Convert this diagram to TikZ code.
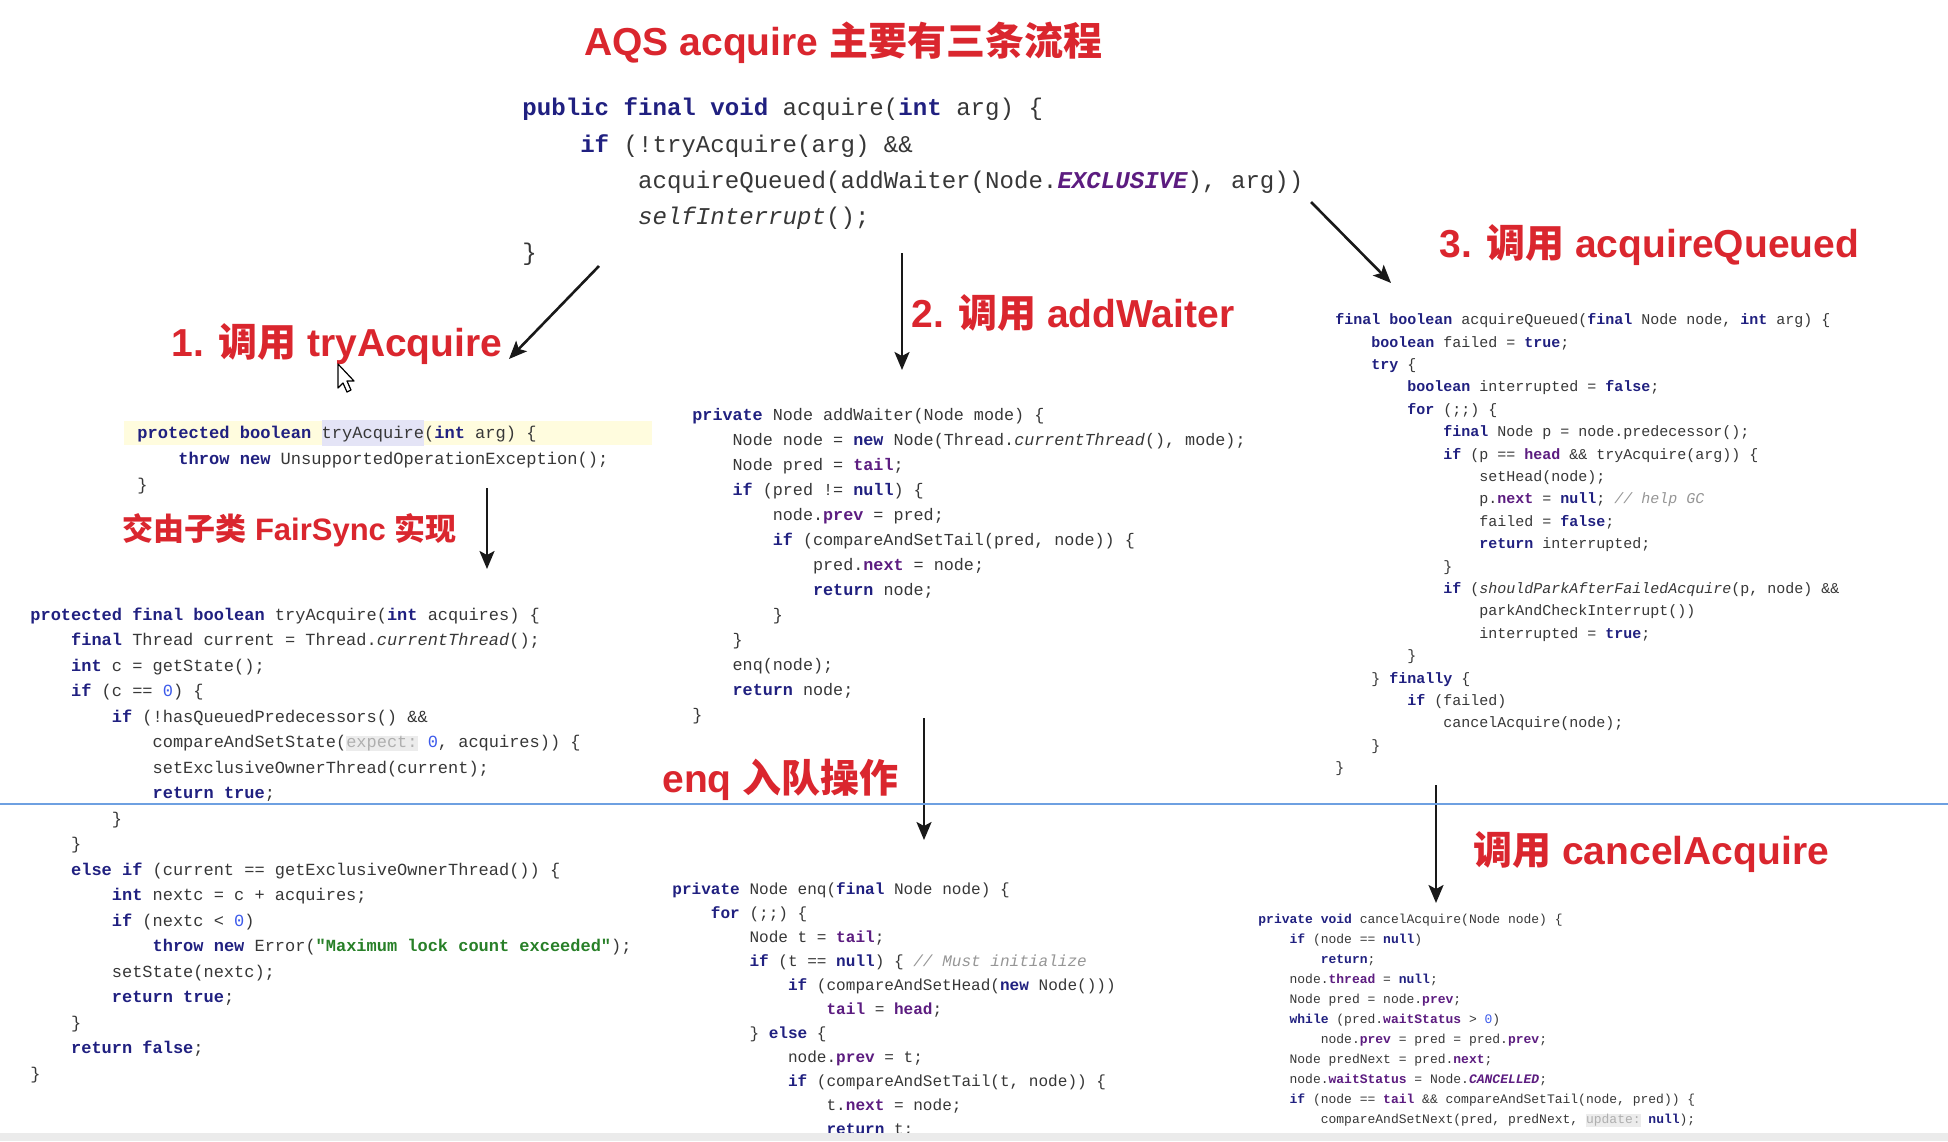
\documentclass[tikz,border=0pt]{standalone}
\usepackage{fontspec}
\setmainfont{Liberation Sans}
\setmonofont{Liberation Mono}
\newfontfamily\cjk{Noto Sans CJK SC}
\usepackage{xcolor}
\usepackage{tikz}
\usetikzlibrary{arrows.meta}

\definecolor{redtxt}{RGB}{218,38,46}
\definecolor{kwcol}{RGB}{32,32,128}
\definecolor{fldcol}{RGB}{92,28,128}
\definecolor{plaincol}{RGB}{55,55,55}
\definecolor{numcol}{RGB}{60,90,235}
\definecolor{strcol}{RGB}{40,128,40}
\definecolor{cmtcol}{RGB}{150,150,150}
\definecolor{hintbg}{RGB}{236,236,236}
\definecolor{hinttxt}{RGB}{175,175,175}
\definecolor{selcol}{RGB}{228,228,246}
\definecolor{linecol}{RGB}{255,252,222}
\definecolor{rulecol}{RGB}{110,160,225}

\newcommand{\ckw}[1]{\textcolor{kwcol}{\bfseries #1}}
\newcommand{\cfld}[1]{\textcolor{fldcol}{\bfseries #1}}
\newcommand{\cnum}[1]{\textcolor{numcol}{#1}}
\newcommand{\cstr}[1]{\textcolor{strcol}{\bfseries #1}}
\newcommand{\ccmt}[1]{\textcolor{cmtcol}{\itshape #1}}
\newcommand{\chint}[1]{{\setlength{\fboxsep}{0pt}\colorbox{hintbg}{\textcolor{hinttxt}{#1}}}}
\newcommand{\chl}[1]{{\setlength{\fboxsep}{0pt}\colorbox{selcol}{\strut #1}}}
\newcommand{\cind}[1]{\hspace*{\dimexpr\fontcharwd\font`\x*#1\relax}}

\begin{document}
\begin{tikzpicture}[
    x=0.5pt, y=-0.5pt,
    head/.style={anchor=west, inner sep=0pt, text=redtxt, font=\fontsize{19.5}{23}\selectfont\bfseries},
    code/.style={anchor=north west, inner sep=0pt, align=left, text=plaincol},
    arrow/.style={-{Stealth[length=9pt,width=7.5pt,inset=2pt]}, line width=1.3pt, draw=black!90}
]
\useasboundingbox[fill=white] (0,0) rectangle (1948,1141);

% current line highlight
\fill[linecol] (124,421) rectangle (652,445);

% Title
\node[head] (title) at (584,43) {AQS acquire {\cjk 主要有三条流程}};

% acquire()
\node[code, font=\fontsize{12.05}{18.15}\selectfont\ttfamily] (acq) at (522,89.9) {%
\strut\ckw{public} \ckw{final} \ckw{void} acquire(\ckw{int} arg) \{\\
\cind{4}\ckw{if} (!tryAcquire(arg) \&\&\\
\cind{8}acquireQueued(addWaiter(Node.\textit{\cfld{EXCLUSIVE}}), arg))\\
\cind{8}\textit{selfInterrupt}();\\
\}};

% Row 1: the three calls
\node[head] (h1) at (171,344) {1. {\cjk 调用} tryAcquire};
\node[head] (h2) at (911,313) {2. {\cjk 调用} addWaiter};
\node[head] (h3) at (1439,245) {3. {\cjk 调用} acquireQueued};

% tryAcquire in AQS
\node[code, font=\fontsize{8.53}{13.05}\selectfont\ttfamily] (absTry) at (137,419.7) {%
\strut\ckw{protected} \ckw{boolean} \chl{tryAcquire}(\ckw{int} arg) \{\\
\cind{4}\ckw{throw} \ckw{new} UnsupportedOperationException();\\
\}};

\node[head, font=\fontsize{15.5}{18}\selectfont\bfseries] (h4) at (122,530) {{\cjk 交由子类} FairSync {\cjk 实现}};

% tryAcquire in FairSync
\node[code, font=\fontsize{8.49}{12.75}\selectfont\ttfamily] (fairTry) at (30,602) {%
\strut\ckw{protected} \ckw{final} \ckw{boolean} tryAcquire(\ckw{int} acquires) \{\\
\cind{4}\ckw{final} Thread current = Thread.\textit{currentThread}();\\
\cind{4}\ckw{int} c = getState();\\
\cind{4}\ckw{if} (c == \cnum{0}) \{\\
\cind{8}\ckw{if} (!hasQueuedPredecessors() \&\&\\
\cind{12}compareAndSetState(\chint{expect:} \cnum{0}, acquires)) \{\\
\cind{12}setExclusiveOwnerThread(current);\\
\cind{12}\ckw{return} \ckw{true};\\
\cind{8}\}\\
\cind{4}\}\\
\cind{4}\ckw{else} \ckw{if} (current == getExclusiveOwnerThread()) \{\\
\cind{8}\ckw{int} nextc = c + acquires;\\
\cind{8}\ckw{if} (nextc < \cnum{0})\\
\cind{12}\ckw{throw} \ckw{new} Error(\cstr{"Maximum lock count exceeded"});\\
\cind{8}setState(nextc);\\
\cind{8}\ckw{return} \ckw{true};\\
\cind{4}\}\\
\cind{4}\ckw{return} \ckw{false};\\
\}};

% addWaiter
\node[code, font=\fontsize{8.38}{12.49}\selectfont\ttfamily] (addW) at (692,402.4) {%
\strut\ckw{private} Node addWaiter(Node mode) \{\\
\cind{4}Node node = \ckw{new} Node(Thread.\textit{currentThread}(), mode);\\
\cind{4}Node pred = \cfld{tail};\\
\cind{4}\ckw{if} (pred != \ckw{null}) \{\\
\cind{8}node.\cfld{prev} = pred;\\
\cind{8}\ckw{if} (compareAndSetTail(pred, node)) \{\\
\cind{12}pred.\cfld{next} = node;\\
\cind{12}\ckw{return} node;\\
\cind{8}\}\\
\cind{4}\}\\
\cind{4}enq(node);\\
\cind{4}\ckw{return} node;\\
\}};

\node[head] (h5) at (662,780) {enq {\cjk 入队操作}};

% enq
\node[code, font=\fontsize{8.03}{12.0}\selectfont\ttfamily] (enqC) at (672,876.8) {%
\strut\ckw{private} Node enq(\ckw{final} Node node) \{\\
\cind{4}\ckw{for} (;;) \{\\
\cind{8}Node t = \cfld{tail};\\
\cind{8}\ckw{if} (t == \ckw{null}) \{ \ccmt{// Must initialize}\\
\cind{12}\ckw{if} (compareAndSetHead(\ckw{new} Node()))\\
\cind{16}\cfld{tail} = \cfld{head};\\
\cind{8}\} \ckw{else} \{\\
\cind{12}node.\cfld{prev} = t;\\
\cind{12}\ckw{if} (compareAndSetTail(t, node)) \{\\
\cind{16}t.\cfld{next} = node;\\
\cind{16}\ckw{return} t;};

% acquireQueued
\node[code, font=\fontsize{7.5}{11.2}\selectfont\ttfamily] (acqQ) at (1335,308.6) {%
\strut\ckw{final} \ckw{boolean} acquireQueued(\ckw{final} Node node, \ckw{int} arg) \{\\
\cind{4}\ckw{boolean} failed = \ckw{true};\\
\cind{4}\ckw{try} \{\\
\cind{8}\ckw{boolean} interrupted = \ckw{false};\\
\cind{8}\ckw{for} (;;) \{\\
\cind{12}\ckw{final} Node p = node.predecessor();\\
\cind{12}\ckw{if} (p == \cfld{head} \&\& tryAcquire(arg)) \{\\
\cind{16}setHead(node);\\
\cind{16}p.\cfld{next} = \ckw{null}; \ccmt{// help GC}\\
\cind{16}failed = \ckw{false};\\
\cind{16}\ckw{return} interrupted;\\
\cind{12}\}\\
\cind{12}\ckw{if} (\textit{shouldParkAfterFailedAcquire}(p, node) \&\&\\
\cind{16}parkAndCheckInterrupt())\\
\cind{16}interrupted = \ckw{true};\\
\cind{8}\}\\
\cind{4}\} \ckw{finally} \{\\
\cind{8}\ckw{if} (failed)\\
\cind{12}cancelAcquire(node);\\
\cind{4}\}\\
\}};

\node[head] (h6) at (1473,852) {{\cjk 调用} cancelAcquire};

% cancelAcquire
\node[code, font=\fontsize{6.5}{10.0}\selectfont\ttfamily] (cancelC) at (1258,909.5) {%
\strut\ckw{private} \ckw{void} cancelAcquire(Node node) \{\\
\cind{4}\ckw{if} (node == \ckw{null})\\
\cind{8}\ckw{return};\\
\cind{4}node.\cfld{thread} = \ckw{null};\\
\cind{4}Node pred = node.\cfld{prev};\\
\cind{4}\ckw{while} (pred.\cfld{waitStatus} > \cnum{0})\\
\cind{8}node.\cfld{prev} = pred = pred.\cfld{prev};\\
\cind{4}Node predNext = pred.\cfld{next};\\
\cind{4}node.\cfld{waitStatus} = Node.\textit{\cfld{CANCELLED}};\\
\cind{4}\ckw{if} (node == \cfld{tail} \&\& compareAndSetTail(node, pred)) \{\\
\cind{8}compareAndSetNext(pred, predNext, \chint{update:} \ckw{null});};

% arrows
\coordinate (s1) at (599,266);  \coordinate (e1) at (509,359);
\coordinate (s2) at (902,253);  \coordinate (e2) at (902,370);
\coordinate (s3) at (1311,202); \coordinate (e3) at (1391,283);
\coordinate (s4) at (487,488);  \coordinate (e4) at (487,569);
\coordinate (s5) at (924,718);  \coordinate (e5) at (924,840);
\coordinate (s6) at (1436,785); \coordinate (e6) at (1436,903);
\draw[arrow] (s1) -- (e1);
\draw[arrow] (s2) -- (e2);
\draw[arrow] (s3) -- (e3);
\draw[arrow] (s4) -- (e4);
\draw[arrow] (s5) -- (e5);
\draw[arrow] (s6) -- (e6);

% mouse pointer
\draw[fill=white, line width=0.6pt, line join=round] (338,364) -- ++(0,24) -- ++(5,-5) -- ++(4,9) -- ++(4,-2) -- ++(-4,-9) -- ++(7,0) -- cycle;

% screen rule and bottom strip
\draw[rulecol, line width=1pt] (0,804) -- (1948,804);
\fill[black!8] (0,1133) rectangle (1948,1141);

\end{tikzpicture}
\end{document}
